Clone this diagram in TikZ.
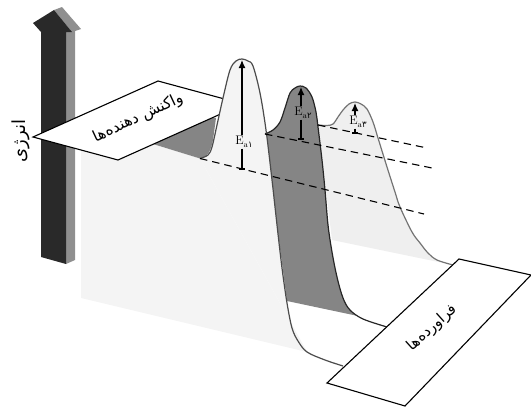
\documentclass[tikz,border=0pt]{standalone}
\usepackage{fontspec}
\newfontfamily\arabicfont[Script=Arabic]{DejaVu Sans}
\TeXXeTstate=1
\usetikzlibrary{arrows.meta}
\definecolor{darkarrow}{HTML}{292929}
\definecolor{sidegrey}{HTML}{8F8F8F}
\definecolor{lightA}{HTML}{F4F4F4}
\definecolor{lightC}{HTML}{EFEFEF}
\definecolor{midgrey}{HTML}{858585}
\newcommand{\curveA}{plot[smooth,tension=.55] coordinates {(200,158.5) (208,155) (212,147) (217,125) (223,98) (230,70) (236,61) (242,59) (248,61) (253,66) (260,93) (266,130) (272,180) (277,225) (282,268) (287,303) (292,328) (298,341) (307,352) (325,360) (343,366)}}
\newcommand{\curveAfill}{plot[smooth,tension=.55] coordinates {(200,158.5) (208,155) (212,147) (217,125) (223,98) (230,70) (236,61) (242,59) (248,61) (253,66) (260,93) (266,130) (272,180) (277,225) (282,268) (287,303) (292,328) (298,341) (307,352)}}
\newcommand{\curveB}{plot[smooth,tension=.55] coordinates {(265,134) (273,130) (280,122) (285,108) (290,93) (295,88) (300,86) (306,88) (312,97) (316,112) (318,127) (322,160) (325,190) (328,225) (332,252) (337,277) (343,298) (350,310) (363,319) (387,327)}}
\newcommand{\curveBfill}{plot[smooth,tension=.55] coordinates {(265,134) (273,130) (280,122) (285,108) (290,93) (295,88) (300,86) (306,88) (312,97) (316,112) (318,127) (322,160) (325,190) (328,225) (332,252) (337,277) (343,298) (350,310) (358,316)}}
\newcommand{\curveC}{plot[smooth,tension=.55] coordinates {(318,125) (327,125.5) (333,124) (338,117) (343,110) (349,104) (355,102) (361,104) (367,109) (373,122) (378,138) (387,167) (395,192) (400,207) (412,232) (420,243) (428,253) (437,260) (453,265)}}
\tikzset{
  plate/.style={draw=black,fill=white,line width=1.1pt,line join=miter},
  peakedge/.style={line width=1.2pt},
  dashline/.style={draw=black,line width=1.1pt,dash pattern=on 7.5pt off 5pt},
  ealine/.style={draw=black,line width=1.2pt},
  ealabel/.style={inner sep=.5pt,font=\fontsize{12.5}{13}\selectfont},
  platetext/.style={inner sep=0pt,font=\arabicfont\fontsize{15.5}{17}\selectfont}
}
\newcommand{\Esub}[1]{E\raisebox{-3pt}{\fontsize{8.5}{9}\selectfont a{\arabicfont #1}}}
\begin{document}
\begin{tikzpicture}[x=1pt,y=-1pt]
\useasboundingbox (0,0) rectangle (531,407);
% energy arrow
\fill[sidegrey] (66,32) -- (75,29) -- (75,260) -- (66,264) -- cycle;
\fill[sidegrey] (54,10) -- (62,7) -- (81,29) -- (72,32) -- cycle;
\fill[darkarrow] (41,32) -- (33,23) -- (54,10) -- (72,32) -- (66,32) -- (66,264) -- (41,257) -- cycle;
% background sheet
\fill[lightA] (81,122) -- (200,158.5) -- (307,352) -- (81,298) -- cycle;
% third peak
\fill[lightC] \curveC -- (332,240) -- (318,125) -- cycle;
% second peak
\fill[midgrey] \curveBfill -- (287,301) -- (265,134) -- cycle;
% left hump
\fill[midgrey] (140,140) -- (200,158.5) .. controls (208,157) and (211,150) .. (213,140) -- (216,118) -- (205,117) -- cycle;
% left plate
\filldraw[plate] (33,137) -- (158,81) -- (243,104) -- (118,160) -- cycle;
% first peak
\fill[lightA] \curveAfill -- (200,158.5) -- cycle;
% strokes
\draw[peakedge,draw=black!55] \curveC;
\draw[peakedge,draw=black!85] \curveB;
\draw[peakedge,draw=black!70] \curveA;
% dashed levels
\coordinate (d1a) at (200,158.5); \coordinate (d1b) at (424,214);
\coordinate (d2a) at (265,134);   \coordinate (d2b) at (432,168);
\coordinate (d3a) at (318,125);   \coordinate (d3b) at (427,148);
\draw[dashline] (d1a) -- (d1b);
\draw[dashline] (d2a) -- (d2b);
\draw[dashline] (d3a) -- (d3b);
% activation energies
\coordinate (t1) at (242,60); \coordinate (b1) at (242,169);
\coordinate (t2) at (301,87); \coordinate (b2) at (301,139);
\coordinate (t3) at (355,103); \coordinate (b3) at (355,133);
\node[ealabel] (e1) at (244,142) {\Esub{۱}};
\node[ealabel] (e2) at (303,113) {\Esub{۲}};
\node[ealabel] (e3) at (358,122) {\Esub{۳}};
\draw[ealine,-{Latex[length=8pt,width=7pt]}] (e1.north -| t1) -- (t1);
\draw[ealine] (e1.south -| b1) -- (b1);
\draw[ealine,-{Latex[length=8pt,width=7pt]}] (e2.north -| t2) -- (t2);
\draw[ealine] (e2.south -| b2) -- (b2);
\draw[ealine,-{Latex[length=8pt,width=7pt]}] (e3.north -| t3) -- (t3);
\draw[ealine] (e3.south -| b3) -- (b3);
\draw[ealine] ([xshift=-3pt]b1) -- ([xshift=3pt]b1);
\draw[ealine] ([xshift=-3pt]b2) -- ([xshift=3pt]b2);
\draw[ealine] ([xshift=-3pt]b3) -- ([xshift=3pt]b3);
% right plate
\filldraw[plate] (459,259) -- (531,275) -- (405,406) -- (327,383) -- cycle;
% texts
\node[platetext,rotate=25] (tL) at (138,118) {\beginR واکنش دهنده‌ها\endR};
\node[platetext,rotate=42,font=\arabicfont\fontsize{15}{17}\selectfont] (tR) at (432,328) {\beginR فراورده‌ها\endR};
\node[platetext,rotate=90,font=\arabicfont\fontsize{18}{20}\selectfont] (tE) at (21,141) {\beginR انرژی\endR};
\end{tikzpicture}
\end{document}
